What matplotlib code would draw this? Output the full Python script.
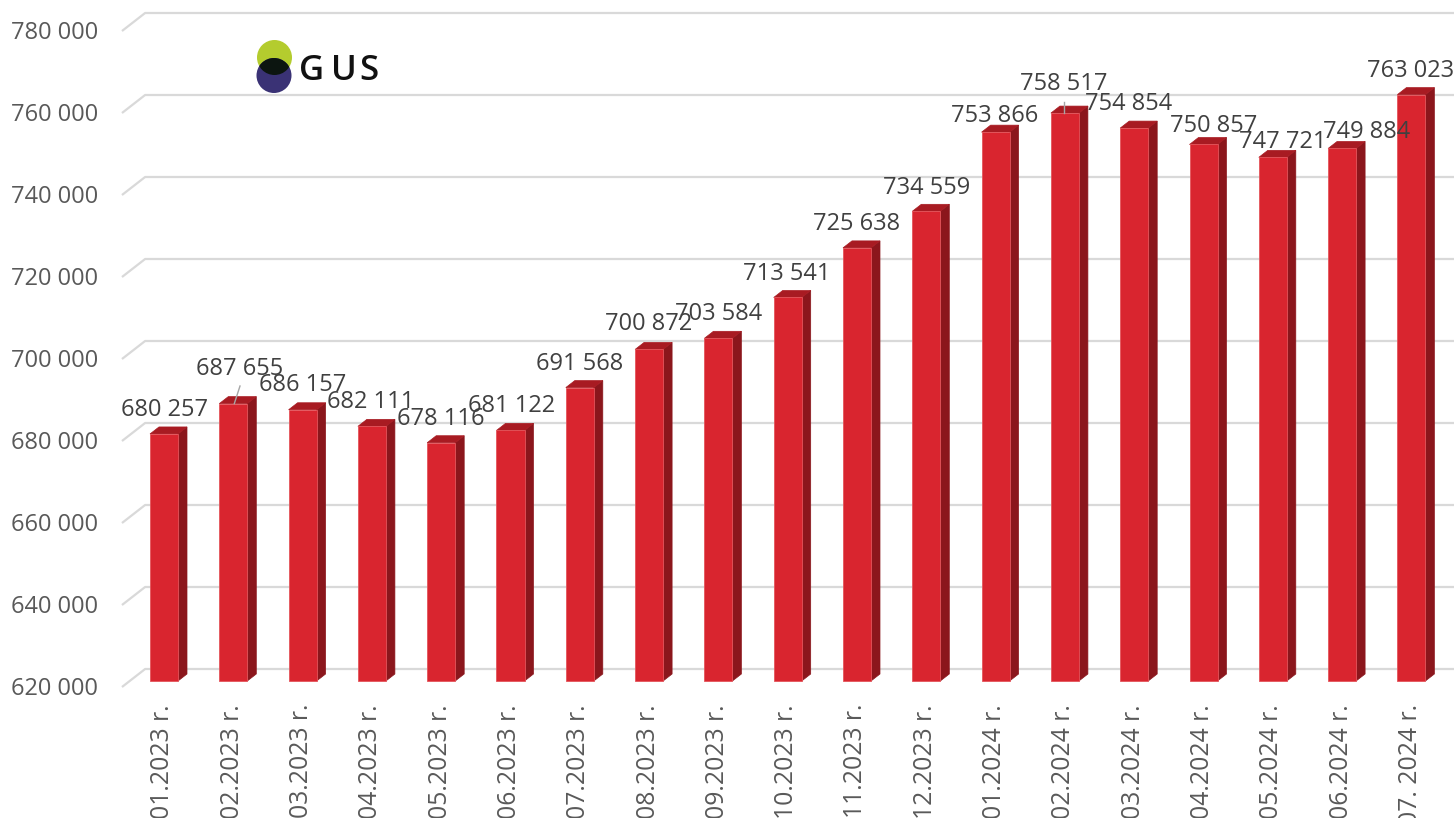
import matplotlib
matplotlib.use("Agg")
import matplotlib.pyplot as plt
from matplotlib.patches import Polygon, Circle
from matplotlib.transforms import offset_copy

# ---------------- data ----------------
categories = ["01.2023 r.", "02.2023 r.", "03.2023 r.", "04.2023 r.", "05.2023 r.",
              "06.2023 r.", "07.2023 r.", "08.2023 r.", "09.2023 r.", "10.2023 r.",
              "11.2023 r.", "12.2023 r.", "01.2024 r.", "02.2024 r.", "03.2024 r.",
              "04.2024 r.", "05.2024 r.", "06.2024 r.", "07. 2024 r."]
values = [680257, 687655, 686157, 682111, 678116, 681122, 691568, 700872, 703584,
          713541, 725638, 734559, 753866, 758517, 754854, 750857, 747721, 749884,
          763023]
y_ticks = [620000, 640000, 660000, 680000, 700000, 720000, 740000, 760000, 780000]
y_tick_labels = ["620 000", "640 000", "660 000", "680 000", "700 000",
                 "720 000", "740 000", "760 000", "780 000"]

# label placement (pixel offsets of label centre from bar top-front centre)
label_dx = [0.5, 6, 0, -1, 0, 1, -0.5, 0, 0, -1, 0, 0.5, -0.5, -1, -5.5, 10, 10, 24.5, -1]
label_dy = [-26.5, -36.6, -27, -27, -26, -27, -26, -27.5, -26.6, -25.5, -26.5, -25.5,
            -18.5, -31, -26.5, -20.5, -17.3, -18.5, -26.5]
leader_bars = [1, 13]

# ---------------- geometry / style ----------------
W, H = 1454, 818
PX_X = 69.3          # pixels per category
PX_V = 0.0041        # pixels per value unit
X0_PX = 164          # pixel x of first bar centre
BASE_PX = 681        # pixel y (from top) of 620 000 on bar plane
VMIN = 620000
BAR_W = 28 / PX_X
DEPTH_Y = 7          # depth of bars (px up)
SLOPE = 9 / 7        # px right per px up

FRONT = "#D9252F"
TOP = "#A81B22"
SIDE = "#8B161C"
GRID = "#D9D9D9"
TXT = "#404040"
AXT = "#595959"
FONT = ["Open Sans", "DejaVu Sans"]
FS = 17
FS_X = 17.8

fig = plt.figure(figsize=(W / 100, H / 100), dpi=100)
ax = fig.add_axes([0, 0, 1, 1])
ax.set_xlim(-X0_PX / PX_X, (W - X0_PX) / PX_X)
ax.set_ylim(VMIN - (H - BASE_PX) / PX_V, VMIN + BASE_PX / PX_V)
ax.axis("off")


def proj(x, v, zy):
    """shift a point in data space by depth zy (pixels upward along oblique axis)"""
    return (x + zy * SLOPE / PX_X, v + zy / PX_V)


# gridlines (wall at x=-0.495, front zy=-6, back zy=+12)
wall_x = -0.495
x_right = (W - X0_PX) / PX_X + 1
for t, lab in zip(y_ticks, y_tick_labels):
    p1 = proj(wall_x, t, -6)
    p2 = proj(wall_x, t, 12)
    p3 = (x_right, p2[1])
    ax.plot([p1[0], p2[0], p3[0]], [p1[1], p2[1], p3[1]], color=GRID, lw=1.6,
            zorder=1, solid_capstyle="butt")
    ax.text((98 - X0_PX) / PX_X, p1[1] - 8.4 / PX_V, lab, ha="right", va="baseline",
            fontsize=FS, color=AXT, family=FONT, zorder=3)

# bars
for i, v in enumerate(values):
    l, r = i - BAR_W / 2, i + BAR_W / 2
    front = [(l, VMIN), (r, VMIN), (r, v), (l, v)]
    side = [(r, VMIN), proj(r, VMIN, DEPTH_Y), proj(r, v, DEPTH_Y), (r, v)]
    top = [(l, v), (r, v), proj(r, v, DEPTH_Y), proj(l, v, DEPTH_Y)]
    ax.add_patch(Polygon(side, closed=True, facecolor=SIDE, edgecolor=SIDE, lw=0.5, zorder=2))
    ax.add_patch(Polygon(top, closed=True, facecolor=TOP, edgecolor=TOP, lw=0.5, zorder=2))
    ax.add_patch(Polygon(front, closed=True, facecolor=FRONT, edgecolor="#E4555B", lw=0.6, zorder=2.1))

# data labels
for i, v in enumerate(values):
    tr = offset_copy(ax.transData, fig=fig, x=label_dx[i], y=-(label_dy[i] + 8.4), units="dots")
    ax.text(i, v, f"{v:,}".replace(",", " "), transform=tr, ha="center", va="baseline",
            fontsize=FS, color=TXT, family=FONT, zorder=4)

# leader lines
leader_start = {1: (6.7, -17.6), 13: (-0.5, -11.3)}
leader_end = {1: (1.0, 0.0), 13: (-0.5, 0.0)}
for i in leader_bars:
    sx, sy = leader_start[i]
    ex, ey = leader_end[i]
    ax.plot([i + sx / PX_X, i + ex / PX_X],
            [values[i] - sy / PX_V, values[i] - ey / PX_V],
            color="#A6A6A6", lw=1.0, zorder=3)

# category labels
for i, c in enumerate(categories):
    ax.text(i - 1.0 / PX_X, VMIN - (704 - BASE_PX) / PX_V, c, rotation=90,
            ha="center", va="top", fontsize=FS_X, color=AXT, family=FONT, zorder=3)

# ---------------- GUS logo (decoration, pixel space) ----------------
lax = fig.add_axes([0, 0, 1, 1], zorder=5)
lax.set_xlim(0, W)
lax.set_ylim(H, 0)
lax.axis("off")
lax.patch.set_alpha(0)
green = Circle((274.5, 57.5), 17.5, facecolor="#B4CC2E", edgecolor="none")
blue = Circle((274, 75.5), 17.5, facecolor="#3A3275", edgecolor="none")
lax.add_patch(green)
lax.add_patch(blue)
overlap = Circle((274, 75.5), 17.5, facecolor="#0C1510", edgecolor="none")
lax.add_patch(overlap)
overlap.set_clip_path(Circle((274.5, 57.5), 17.5, transform=lax.transData))
for ch, x in zip("GUS", [299, 331, 359]):
    lax.text(x, 80, ch, ha="left", va="baseline", fontsize=25, fontweight="semibold",
             color="#111111", family=FONT)

fig.savefig("out.png", dpi=100)
